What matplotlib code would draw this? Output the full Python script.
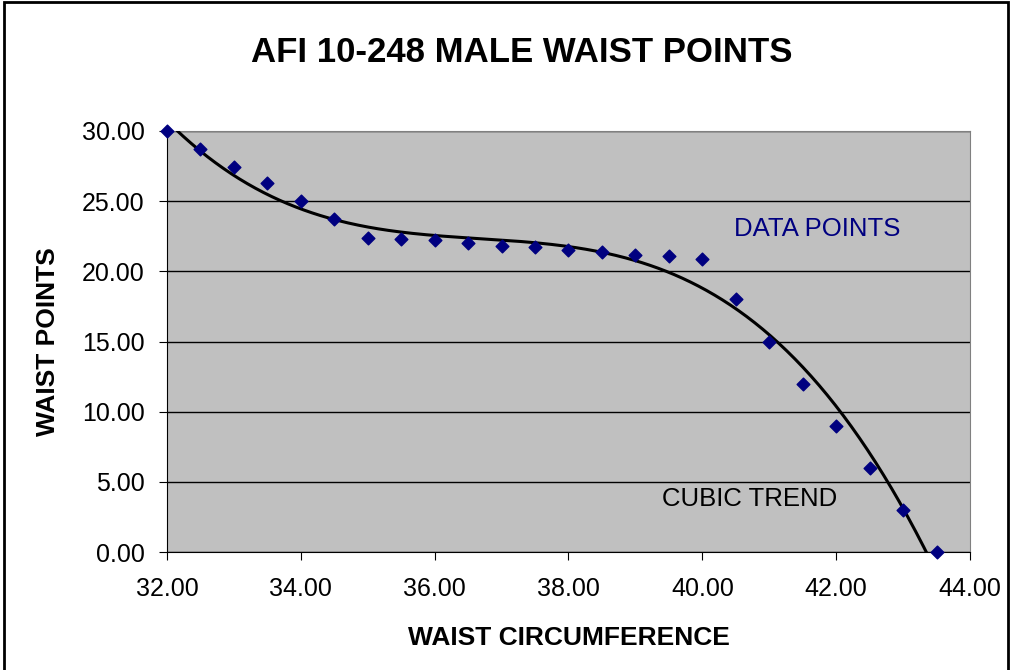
import numpy as np
import matplotlib.pyplot as plt
from matplotlib.patches import Rectangle
from matplotlib.ticker import FormatStrFormatter

# waist circumference (inches) and points
waist = [32.0, 32.5, 33.0, 33.5, 34.0, 34.5, 35.0, 35.5, 36.0, 36.5, 37.0, 37.5,
         38.0, 38.5, 39.0, 39.5, 40.0, 40.5, 41.0, 41.5, 42.0, 42.5, 43.0, 43.5]
points = [30.0, 28.7, 27.4, 26.3, 25.0, 23.7, 22.4, 22.3, 22.2, 22.0, 21.8, 21.7,
          21.5, 21.4, 21.2, 21.1, 20.9, 18.0, 15.0, 12.0, 9.0, 6.0, 3.0, 0.0]

plt.rcParams['font.family'] = ['Liberation Sans', 'DejaVu Sans']

fig = plt.figure(figsize=(10.12, 6.7), dpi=100)
ax = fig.add_axes([0.165, 0.176, 0.7935, 0.6285])
ax.set_facecolor('#C0C0C0')

#cubic trend line
coef = np.polyfit(waist, points, 3)
xs = np.linspace(32, 44, 400)
ax.plot(xs, np.polyval(coef, xs), color='black', lw=2.2, zorder=3)

ax.scatter(waist, points, marker='D', s=42, color='#000080', zorder=4, clip_on=False)

ax.set_xlim(32, 44)
ax.set_ylim(0, 30)
ax.set_xticks(np.arange(32, 44.1, 2))
ax.set_yticks(np.arange(0, 30.1, 5))
ax.xaxis.set_major_formatter(FormatStrFormatter('%.2f'))
ax.yaxis.set_major_formatter(FormatStrFormatter('%.2f'))
ax.grid(axis='y', color='black', lw=1)
ax.set_axisbelow(True)
ax.tick_params(labelsize=18, length=6, color='black')
ax.tick_params(axis='x', pad=12)
ax.tick_params(axis='y', pad=10)
for s in ['top', 'right']:
    ax.spines[s].set_color('#808080')
for s in ['left', 'bottom']:
    ax.spines[s].set_color('black')

ax.set_xlabel('WAIST CIRCUMFERENCE', fontsize=19, fontweight='bold', labelpad=18)
ax.set_ylabel('WAIST POINTS', fontsize=19, fontweight='bold', labelpad=16)
fig.text(0.5155, 0.922, 'AFI 10-248 MALE WAIST POINTS', ha='center', va='center',
         fontsize=25, fontweight='bold')

ax.text(40.47, 23.0, 'DATA POINTS', color='#000080', fontsize=18.5, va='center')
ax.text(39.4, 3.78, 'CUBIC TREND', color='black', fontsize=18.5, va='center')

fig.patches.append(Rectangle((0.004, -0.01), 0.992, 1.007, transform=fig.transFigure,
                             fill=False, edgecolor='black', lw=2))

fig.savefig('out.png', dpi=100)
